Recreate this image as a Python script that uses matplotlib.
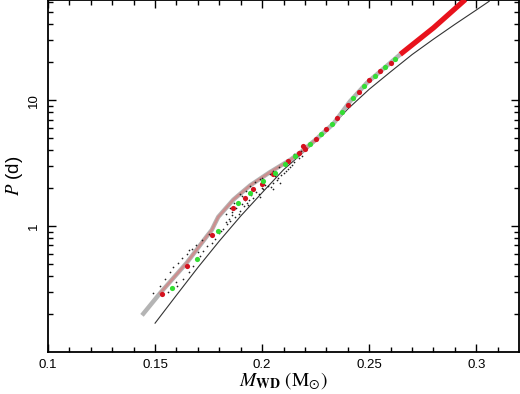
import matplotlib
matplotlib.use("Agg")
import matplotlib.pyplot as plt
from matplotlib.ticker import FixedLocator, NullFormatter

# =========================
# DATA
# =========================

# thin black reference relation
ref_m = [0.150, 0.160, 0.170, 0.180, 0.190, 0.200, 0.210, 0.220, 0.230,
         0.240, 0.250, 0.260, 0.270, 0.280, 0.290, 0.300, 0.306]
ref_p = [0.169, 0.282, 0.468, 0.759, 1.20, 1.84, 2.80, 3.95, 5.6,
         8.5, 12.2, 16.8, 23.0, 30.5, 40.0, 52.0, 61.0]

# main evolutionary track (grey / pink part)
trk_m = [0.1439, 0.1523, 0.1648, 0.1742, 0.1765, 0.1780, 0.1795, 0.1820, 0.1866,
         0.1944, 0.2037, 0.2131, 0.2180, 0.2250, 0.2333, 0.2411, 0.2489, 0.2645]
trk_p = [0.195, 0.292, 0.510, 0.830, 0.93, 1.05, 1.18, 1.32, 1.62,
         2.10, 2.68, 3.35, 3.85, 4.85, 6.50, 9.80, 13.7, 23.1]

pink_m = [0.1523, 0.1648, 0.1742, 0.1765, 0.1780, 0.1795, 0.1820, 0.1866,
          0.1944, 0.2037, 0.2131, 0.2180, 0.2250]
pink_p = [0.292, 0.510, 0.830, 0.93, 1.05, 1.18, 1.32, 1.62,
          2.10, 2.68, 3.35, 3.85, 4.85]

# red upper end of the track
hi_m = [0.2645, 0.2720, 0.2800, 0.2949]
hi_p = [23.1, 29.2, 37.5, 63.0]

# red markers
red_m = [0.1533, 0.1648, 0.1765, 0.1866, 0.1921, 0.1959, 0.1999, 0.2053,
         0.2123, 0.2170, 0.2192,
         0.2200, 0.2250, 0.2300, 0.2350, 0.2400, 0.2450, 0.2500, 0.2550, 0.2600]
red_p = [0.287, 0.479, 0.843, 1.40, 1.68, 1.96, 2.14, 2.57,
         3.28, 3.83, 4.31,
         4.1, 4.95, 5.9, 7.2, 9.2, 11.6, 14.4, 16.9, 19.9]

# green markers
grn_m = [0.1578, 0.1695, 0.1796, 0.1889, 0.1944, 0.2006, 0.2061, 0.2107, 0.2154,
         0.2225, 0.2275, 0.2325, 0.2375, 0.2425, 0.2475, 0.2525, 0.2575, 0.2620]
grn_p = [0.324, 0.544, 0.912, 1.53, 1.84, 2.28, 2.65, 3.09, 3.59,
         4.5, 5.4, 6.5, 8.1, 10.4, 12.9, 15.5, 18.3, 21.3]

# small dark dots (scattered models)
dot_m = [0.1492, 0.1523, 0.1547, 0.1570, 0.1586, 0.1609, 0.1625, 0.1648, 0.1671,
         0.1742, 0.1765, 0.1780, 0.1819, 0.1835, 0.1850, 0.1874, 0.1897, 0.1913,
         0.1928, 0.1959, 0.1983, 0.2006, 0.2029, 0.2053, 0.2076, 0.2100,
         0.1897, 0.1944, 0.1991, 0.2053, 0.2115, 0.2162,
         0.1679, 0.1710, 0.1726, 0.1632, 0.1601, 0.2053, 0.2084,
         0.1560, 0.1600, 0.1660, 0.1700, 0.1860, 0.1940, 0.2120, 0.2140,
         0.1800, 0.1810, 0.1830, 0.1845, 0.1860, 0.1880, 0.1890, 0.1905,
         0.1920, 0.1935, 0.1950, 0.1970, 0.1990, 0.2000, 0.2015, 0.2040,
         0.2060, 0.2070, 0.2090, 0.2110, 0.2130, 0.2150, 0.2170, 0.2185,
         0.1830, 0.1850, 0.1870, 0.1905, 0.1925, 0.1965, 0.2000, 0.2035,
         0.2080, 0.2120, 0.2150, 0.2180, 0.1720, 0.1750, 0.1690, 0.1660]
dot_p = [0.292, 0.334, 0.377, 0.427, 0.468, 0.512, 0.561, 0.596, 0.653,
         0.694, 0.738, 0.784, 0.941, 1.03, 1.10, 1.17, 1.31, 1.44,
         1.53, 1.68, 1.79, 1.95, 2.08, 2.21, 2.42, 2.65,
         1.78, 2.08, 2.35, 2.73, 3.19, 3.59,
         0.482, 0.578, 0.634, 0.377, 0.334, 1.96, 2.21,
         0.30, 0.36, 0.43, 0.62, 1.22, 1.62, 2.85, 3.05,
         0.88, 0.92, 1.08, 1.14, 1.30, 1.38, 1.25, 1.50,
         1.60, 1.46, 1.75, 1.87, 1.70, 2.00, 2.12, 2.05,
         2.50, 2.32, 2.55, 2.75, 2.95, 3.20, 3.45, 3.60,
         1.25, 1.38, 1.52, 1.72, 1.88, 2.22, 2.42, 2.58,
         2.95, 3.35, 3.70, 3.95, 0.78, 0.86, 0.70, 0.64]

# =========================
# STYLE
# =========================

plt.rcParams["font.family"] = ["Liberation Sans", "DejaVu Sans"]
plt.rcParams["mathtext.fontset"] = "stix"

fig = plt.figure(figsize=(5.2, 3.94), dpi=100)
ax = fig.add_axes([0.0923, 0.107, 0.906, 0.892])

# =========================
# PLOT
# =========================

ax.plot(ref_m, ref_p, color="#333333", lw=0.8, zorder=2)
ax.plot(trk_m, trk_p, color="#b4b4b4", lw=3.2, solid_capstyle="butt", zorder=3)
ax.plot(pink_m, pink_p, color="#cc8f8f", lw=1.8, zorder=4)
ax.plot(hi_m, hi_p, color="#e8121c", lw=3.8, solid_capstyle="butt", zorder=4)

ax.scatter(dot_m, dot_p, s=1.5, color="#202020", lw=0, zorder=5)
ax.scatter(red_m, red_p, s=14, color="#d4111e", lw=0, zorder=6)
ax.scatter(grn_m, grn_p, s=14, color="#33dd33", lw=0, zorder=6)

# =========================
# AXES
# =========================

ax.set_yscale("log")
ax.set_xlim(0.1, 0.32)
ax.set_ylim(0.1, 62)

ax.set_xticks([0.1, 0.15, 0.2, 0.25, 0.3])
ax.set_xticklabels(["0.1", "0.15", "0.2", "0.25", "0.3"])
ax.xaxis.set_minor_locator(FixedLocator([0.11, 0.12, 0.13, 0.14, 0.16, 0.17, 0.18,
                                         0.19, 0.21, 0.22, 0.23, 0.24, 0.26, 0.27,
                                         0.28, 0.29, 0.31]))
ax.set_yticks([1, 10])
ax.set_yticklabels(["1", "10"], rotation=90, va="center")
ax.yaxis.set_minor_formatter(NullFormatter())

ax.tick_params(which="both", direction="in", top=True, right=True,
               labelsize=9.5, width=1.0)
ax.tick_params(which="major", length=6)
ax.tick_params(which="minor", length=3.5)
ax.tick_params(axis="x", pad=5)
ax.tick_params(axis="y", pad=6)

for s in ax.spines.values():
    s.set_linewidth(1.3)

ax.set_xlabel(r"$M_{\mathbf{WD}}\ (\mathrm{M}_{\odot})$", fontsize=14, labelpad=0)
ax.set_ylabel(r"$P$ (d)", fontsize=13.5, labelpad=2)

fig.savefig("out.png", dpi=100)
